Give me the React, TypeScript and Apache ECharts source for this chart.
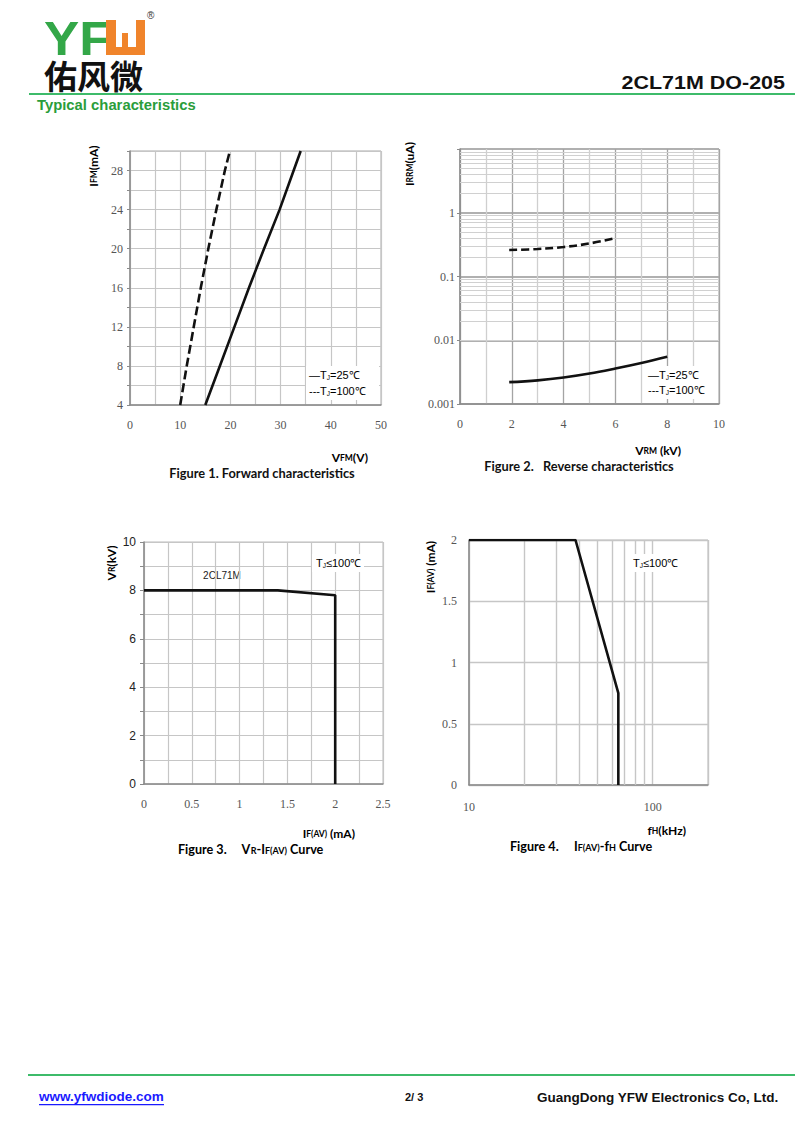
import React, { useEffect, useRef } from 'react';
import * as echarts from 'echarts';

// ---------- data ----------
// Figure 1: forward characteristics (VFM in V, IFM in mA)
const fig1Vfm25 = [15, 17.9, 20.8, 23.7, 26.7, 29.8, 32.6, 34];
const fig1Ifm25 = [4, 8, 12, 16, 20, 24, 28, 30];
const fig1Vfm100 = [10, 11.3, 12.7, 14.1, 15.6, 17.2, 18.9, 19.9];
const fig1Ifm100 = [4, 8, 12, 16, 20, 24, 28, 30];
const fig1XLabels = [0, 10, 20, 30, 40, 50];
const fig1YLabels = [4, 8, 12, 16, 20, 24, 28];

// Figure 2: reverse characteristics (VRM in kV, IRRM in uA)
const fig2Vrm25 = [1.9, 3, 4, 5, 6, 7, 8];
const fig2Irrm25 = [0.0022, 0.00235, 0.0026, 0.003, 0.0036, 0.0044, 0.0055];
const fig2Vrm100 = [1.9, 3, 4, 5, 6];
const fig2Irrm100 = [0.26, 0.27, 0.29, 0.33, 0.4];
const fig2XLabels = [0, 2, 4, 6, 8, 10];
const fig2YLabels = ['0.001', '0.01', '0.1', '1'];
const fig2MinorDecades = [0.001, 0.01, 0.1, 1];
const fig2MinorSteps = [2, 3, 4, 5, 6, 7, 8, 9];

// Figure 3: VR - IF(AV)
const fig3If = [0, 1.4, 2, 2];
const fig3Vr = [8, 8, 7.8, 0];
const fig3XLabels = ['0', '0.5', '1', '1.5', '2', '2.5'];
const fig3YLabels = [0, 2, 4, 6, 8, 10];

// Figure 4: IF(AV) - fH
const fig4Fh = [10, 38, 65, 65];
const fig4If = [2, 2, 0.75, 0];
const fig4XLabels = ['10', '100'];
const fig4YLabels = ['0', '0.5', '1', '1.5', '2'];
const fig4MinorX = [20, 30, 40, 50, 60, 70, 80, 90];

// ---------- styles ----------
const SANS = '"Liberation Sans", Arial, sans-serif';
const SERIF = '"Liberation Serif", "DejaVu Serif", serif';
const CAL = 'Lato, "Open Sans", sans-serif';
const CJK = '"Noto Sans CJK SC", sans-serif';
const GRID_C = '#c6c6c6';
const AXIS_C = '#8a8a8a';
const TICK_C = '#555';
const GREEN = '#3dbb6a';

const zip = (xs: number[], ys: number[]) => xs.map((x, i) => [x, ys[i]]);
const near = (a: number, b: number) => Math.abs(a - b) < 1e-6;

const App: React.FC = () => {
  const ref = useRef<HTMLDivElement>(null);

  useEffect(() => {
    if (!ref.current) return;
    const chart = echarts.init(ref.current, null, { renderer: 'svg' });

    const serifLabel = (margin: number) => ({
      fontFamily: SERIF,
      fontSize: 12,
      color: TICK_C,
      margin,
    });

    const minorLine = (color: string, width: number) => ({
      silent: true,
      symbol: 'none',
      animation: false,
      label: { show: false },
      emphasis: { disabled: true },
      lineStyle: { color, width, type: 'solid' },
    });

    const fig2Minor: any[] = [];
    fig2MinorDecades.forEach((d) =>
      fig2MinorSteps.forEach((k) => fig2Minor.push({ yAxis: +(d * k).toPrecision(3) }))
    );

    const titleRich = {
      b: { fontSize: 12, fontFamily: CAL, fontWeight: 'bold', color: '#111' },
      s: { fontSize: 8.5, fontFamily: CAL, fontWeight: 'bold', color: '#111', padding: [2, 0, 0, 0] },
    };
    const capRich = {
      b: { fontSize: 12.6, fontFamily: CAL, fontWeight: 'bold', color: '#111' },
      s: { fontSize: 9, fontFamily: CAL, fontWeight: 'bold', color: '#111', padding: [2, 0, 0, 0] },
    };
    const legRich = {
      a: { fontSize: 11, fontFamily: SANS, color: '#444' },
      s: { fontSize: 6.5, fontFamily: SANS, color: '#444', padding: [4, 0, 0, 0] },
    };

    const text = (x: number, y: number, t: string, style: any, extra: any = {}) => ({
      type: 'text',
      x,
      y,
      silent: true,
      style: { text: t, textVerticalAlign: 'middle', ...style },
      ...extra,
    });

    const option: any = {
      animation: false,
      backgroundColor: '#fff',
      grid: [
        { left: 130, top: 151, width: 251, height: 254, show: true, borderColor: '#a8a8a8', borderWidth: 1, containLabel: false },
        { left: 460, top: 149, width: 259, height: 255, show: true, borderColor: '#a8a8a8', borderWidth: 1, containLabel: false },
        { left: 144, top: 542, width: 239, height: 242, show: true, borderColor: '#bbb', borderWidth: 1, containLabel: false },
        { left: 469, top: 540, width: 239, height: 245, show: true, borderColor: '#bbb', borderWidth: 1, containLabel: false },
      ],
      xAxis: [
        {
          gridIndex: 0, type: 'value', min: 0, max: 50, interval: 5,
          axisLine: { show: true, lineStyle: { color: AXIS_C, width: 1.5 } },
          axisTick: { show: false },
          splitLine: { show: true, lineStyle: { color: GRID_C, width: 1.2 } },
          axisLabel: { ...serifLabel(14), formatter: (v: number) => (fig1XLabels.some((t) => near(t, v)) ? String(v) : '') },
        },
        {
          gridIndex: 1, type: 'value', min: 0, max: 10, interval: 1,
          axisLine: { show: true, lineStyle: { color: AXIS_C, width: 1.5 } },
          axisTick: { show: false },
          splitLine: { show: true, lineStyle: { color: ['#a4a4a4', '#cfcfcf'], width: 1.3 } },
          axisLabel: { ...serifLabel(14), formatter: (v: number) => (fig2XLabels.some((t) => near(t, v)) ? String(v) : '') },
        },
        {
          gridIndex: 2, type: 'value', min: 0, max: 2.5, interval: 0.25,
          axisLine: { show: true, lineStyle: { color: AXIS_C, width: 1.5 } },
          axisTick: { show: false },
          splitLine: { show: true, lineStyle: { color: GRID_C, width: 1.2 } },
          axisLabel: {
            ...serifLabel(14),
            formatter: (v: number) => {
              const l = fig3XLabels.find((t) => near(parseFloat(t), v));
              return l ?? '';
            },
          },
        },
        {
          gridIndex: 3, type: 'log', min: 10, max: 200, logBase: 10,
          axisLine: { show: true, lineStyle: { color: AXIS_C, width: 1.5 } },
          axisTick: { show: false },
          splitLine: { show: true, lineStyle: { color: GRID_C, width: 1.4 } },
          axisLabel: {
            ...serifLabel(16),
            formatter: (v: number) => {
              const l = fig4XLabels.find((t) => Math.abs(parseFloat(t) - v) < 1e-3);
              return l ?? '';
            },
          },
        },
      ],
      yAxis: [
        {
          gridIndex: 0, type: 'value', min: 4, max: 30, interval: 2,
          axisLine: { show: true, lineStyle: { color: AXIS_C, width: 1.5 } },
          axisTick: { show: true, length: 3, lineStyle: { color: AXIS_C } },
          splitLine: { show: true, lineStyle: { color: GRID_C, width: 1.2 } },
          axisLabel: { ...serifLabel(7), formatter: (v: number) => (fig1YLabels.some((t) => near(t, v)) ? String(v) : '') },
        },
        {
          gridIndex: 1, type: 'log', min: 0.001, max: 10, logBase: 10,
          axisLine: { show: true, lineStyle: { color: AXIS_C, width: 1.5 } },
          axisTick: { show: true, length: 3, lineStyle: { color: AXIS_C } },
          splitLine: { show: true, lineStyle: { color: '#b0b0b0', width: 2 } },
          axisLabel: {
            ...serifLabel(5),
            formatter: (v: number) => {
              const l = fig2YLabels.find((t) => Math.abs(Math.log10(parseFloat(t)) - Math.log10(v)) < 1e-6);
              return l ?? '';
            },
          },
        },
        {
          gridIndex: 2, type: 'value', min: 0, max: 10, interval: 1,
          axisLine: { show: true, lineStyle: { color: AXIS_C, width: 1.5 } },
          axisTick: { show: true, length: 4, lineStyle: { color: AXIS_C } },
          splitLine: { show: true, lineStyle: { color: GRID_C, width: 1.2 } },
          axisLabel: {
            fontFamily: SANS, fontSize: 12, color: '#222', margin: 8,
            formatter: (v: number) => (fig3YLabels.some((t) => near(t, v)) ? String(v) : ''),
          },
        },
        {
          gridIndex: 3, type: 'value', min: 0, max: 2, interval: 0.5,
          axisLine: { show: true, lineStyle: { color: AXIS_C, width: 1.5 } },
          axisTick: { show: false },
          splitLine: { show: true, lineStyle: { color: GRID_C, width: 1.4 } },
          axisLabel: {
            ...serifLabel(12),
            formatter: (v: number) => {
              const l = fig4YLabels.find((t) => near(parseFloat(t), v));
              return l ?? '';
            },
          },
        },
      ],
      series: [
        // grid minor lines (fig 2 horizontal, fig 4 vertical)
        {
          type: 'line', xAxisIndex: 1, yAxisIndex: 1, data: [], z: 1,
          markLine: { ...minorLine('#d0d0d0', 1), data: fig2Minor },
        },
        {
          type: 'line', xAxisIndex: 3, yAxisIndex: 3, data: [], z: 1,
          markLine: { ...minorLine(GRID_C, 1.4), data: fig4MinorX.map((v) => ({ xAxis: v })) },
        },
        {
          name: 'Tj=25', type: 'line', xAxisIndex: 0, yAxisIndex: 0, showSymbol: false, z: 5,
          lineStyle: { color: '#111', width: 2.6 }, data: zip(fig1Vfm25, fig1Ifm25),
        },
        {
          name: 'Tj=100', type: 'line', xAxisIndex: 0, yAxisIndex: 0, showSymbol: false, z: 5,
          lineStyle: { color: '#111', width: 2.6, type: [9, 4] }, data: zip(fig1Vfm100, fig1Ifm100),
        },
        {
          name: 'Tj=25', type: 'line', xAxisIndex: 1, yAxisIndex: 1, smooth: 0.4, showSymbol: false, z: 5,
          lineStyle: { color: '#111', width: 2.6 }, data: zip(fig2Vrm25, fig2Irrm25),
        },
        {
          name: 'Tj=100', type: 'line', xAxisIndex: 1, yAxisIndex: 1, smooth: 0.4, showSymbol: false, z: 5,
          lineStyle: { color: '#111', width: 2.6, type: [8, 4] }, data: zip(fig2Vrm100, fig2Irrm100),
        },
        {
          name: '2CL71M', type: 'line', xAxisIndex: 2, yAxisIndex: 2, showSymbol: false, z: 5,
          lineStyle: { color: '#111', width: 2.6 }, data: zip(fig3If, fig3Vr),
        },
        {
          name: '2CL71M', type: 'line', xAxisIndex: 3, yAxisIndex: 3, showSymbol: false, z: 5,
          lineStyle: { color: '#111', width: 2.6 }, data: zip(fig4Fh, fig4If),
        },
      ],
      graphic: [
        // ----- header logo -----
        text(44, 38, 'YF', { fontFamily: SANS, fontWeight: 'bold', fontSize: 48, lineHeight: 36, fill: '#33a748' }, { scaleX: 1.1 }),
        { type: 'rect', silent: true, shape: { x: 106, y: 20, width: 10, height: 35 }, style: { fill: '#f0842b' } },
        { type: 'rect', silent: true, shape: { x: 136, y: 20, width: 9, height: 35 }, style: { fill: '#f0842b' } },
        { type: 'rect', silent: true, shape: { x: 106, y: 47, width: 39, height: 8 }, style: { fill: '#f0842b' } },
        { type: 'rect', silent: true, shape: { x: 122, y: 33, width: 6, height: 15 }, style: { fill: '#f0842b' } },
        text(147, 15, '®', { fontFamily: SANS, fontSize: 10, fill: '#333' }),
        text(44, 75, '佑风微', { fontFamily: CJK, fontWeight: 'bold', fontSize: 33, lineHeight: 30, fill: '#111' }),
        { type: 'rect', silent: true, shape: { x: 29, y: 93, width: 766, height: 2 }, style: { fill: GREEN } },
        text(37, 105, 'Typical characteristics', { fontFamily: SANS, fontWeight: 'bold', fontSize: 14, fill: '#2a9d3a' }, { scaleX: 1.06 }),
        text(785, 82, '2CL71M DO-205', { fontFamily: SANS, fontWeight: 'bold', fontSize: 19, fill: '#111', textAlign: 'right' }, { scaleX: 1.13 }),

        // ----- figure 1 -----
        text(93, 166, '{b|I}{s|FM}{b|(mA)}', { rich: titleRich, textAlign: 'center' }, { rotation: Math.PI / 2 }),
        text(368, 457, '{b|V}{s|FM}{b|(V)}', { rich: titleRich, textAlign: 'right' }),
        text(262, 473, 'Figure 1. Forward characteristics', { fontFamily: CAL, fontWeight: 'bold', fontSize: 12.8, fill: '#111', textAlign: 'center' }),
        { type: 'rect', silent: true, z: 10, shape: { x: 306, y: 366, width: 73, height: 34 }, style: { fill: '#fff' } },
        text(309, 375, '{a|—T}{s|J}{a|=25℃}', { rich: legRich }, { z: 11 }),
        text(309, 391, '{a|---T}{s|J}{a|=100℃}', { rich: legRich }, { z: 11 }),

        // ----- figure 2 -----
        text(409, 164, '{b|I}{s|RRM}{b|(uA)}', { rich: titleRich, textAlign: 'center' }, { rotation: Math.PI / 2 }),
        text(681, 450, '{b|V}{s|RM}{b| (kV)}', { rich: titleRich, textAlign: 'right' }),
        text(579, 466, 'Figure 2.   Reverse characteristics', { fontFamily: CAL, fontWeight: 'bold', fontSize: 12.8, fill: '#111', textAlign: 'center' }),
        { type: 'rect', silent: true, z: 10, shape: { x: 646, y: 366, width: 70, height: 33 }, style: { fill: '#fff' } },
        text(648, 375, '{a|—T}{s|J}{a|=25℃}', { rich: legRich }, { z: 11 }),
        text(648, 390, '{a|---T}{s|J}{a|=100℃}', { rich: legRich }, { z: 11 }),

        // ----- figure 3 -----
        text(111, 563, '{b|V}{s|R}{b|(kV)}', { rich: titleRich, textAlign: 'center' }, { rotation: Math.PI / 2 }),
        text(355, 833, '{b|I}{s|F(AV)}{b| (mA)}', { rich: titleRich, textAlign: 'right' }),
        text(178, 849, '{b|Figure 3.     V}{s|R}{b|-I}{s|F(AV)}{b| Curve}', { rich: capRich }),
        text(222, 575, '2CL71M', { fontFamily: SANS, fontSize: 10, fill: '#222', textAlign: 'center' }),
        { type: 'rect', silent: true, z: 10, shape: { x: 312, y: 554, width: 52, height: 18 }, style: { fill: '#fff' } },
        text(316, 563, '{a|T}{s|J}{a|≤100℃}', { rich: legRich }, { z: 11 }),

        // ----- figure 4 -----
        text(430, 567, '{b|I}{s|F(AV)}{b| (mA)}', { rich: titleRich, textAlign: 'center' }, { rotation: Math.PI / 2 }),
        text(686, 830, '{b|f}{s|H}{b|(kHz)}', { rich: titleRich, textAlign: 'right' }),
        text(510, 846, '{b|Figure 4.     I}{s|F(AV)}{b|-f}{s|H}{b| Curve}', { rich: capRich }),
        { type: 'rect', silent: true, z: 10, shape: { x: 629, y: 554, width: 52, height: 18 }, style: { fill: '#fff' } },
        text(633, 563, '{a|T}{s|J}{a|≤100℃}', { rich: legRich }, { z: 11 }),

        // ----- footer -----
        { type: 'rect', silent: true, shape: { x: 28, y: 1074, width: 767, height: 2 }, style: { fill: GREEN } },
        text(39, 1096, 'www.yfwdiode.com', { fontFamily: SANS, fontWeight: 'bold', fontSize: 13.5, fill: '#1a1aff' }),
        { type: 'rect', silent: true, shape: { x: 39, y: 1104, width: 125, height: 1.3 }, style: { fill: '#1a1aff' } },
        text(405, 1097, '2/ 3', { fontFamily: SANS, fontWeight: 'bold', fontSize: 11, fill: '#111' }),
        text(537, 1097, 'GuangDong YFW Electronics Co, Ltd.', { fontFamily: SANS, fontWeight: 'bold', fontSize: 13.5, fill: '#111' }),
      ],
    };

    chart.setOption(option);
    return () => chart.dispose();
  }, []);

  return (
    <div
      ref={ref}
      style={{ position: 'absolute', left: 0, top: 0, width: 800, height: 1134, background: '#fff' }}
    />
  );
};

export default App;
